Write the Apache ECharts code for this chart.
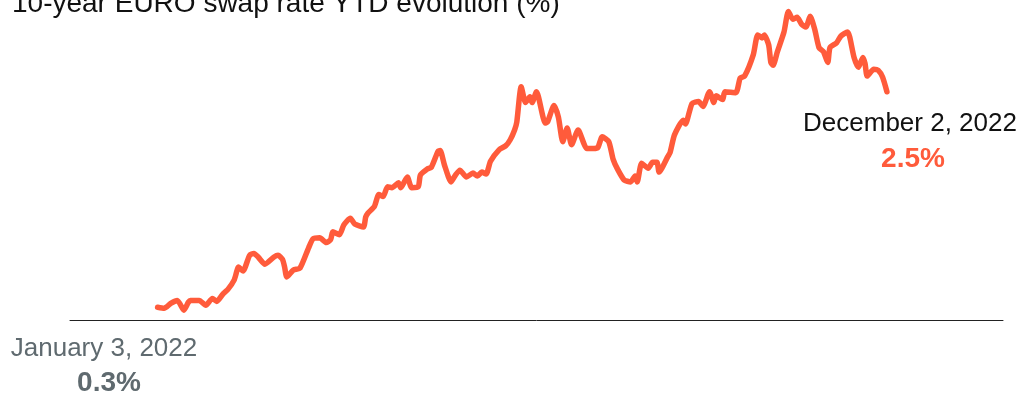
<!DOCTYPE html>
<html>
<head>
<meta charset="utf-8">
<script src="https://cdn.jsdelivr.net/npm/echarts@6/dist/echarts.min.js"></script>
<style>
html,body{margin:0;padding:0;background:#fff;}
#chart{width:1023px;height:396px;}
</style>
</head>
<body>
<div id="chart"></div>
<script>
const title = '10-year EURO swap rate YTD evolution (%)';
const startLabel = 'January 3, 2022';
const startValueLabel = '0.3%';
const endLabel = 'December 2, 2022';
const endValueLabel = '2.5%';

const dates = [
'2022-01-03','2022-01-06','2022-01-09','2022-01-12','2022-01-15','2022-01-17','2022-01-18','2022-01-22','2022-01-25','2022-01-28',
'2022-01-30','2022-02-02','2022-02-04','2022-02-07','2022-02-09','2022-02-11','2022-02-14','2022-02-16','2022-02-18','2022-02-21',
'2022-02-25','2022-02-27','2022-03-01','2022-03-02','2022-03-03','2022-03-06','2022-03-09','2022-03-13','2022-03-15','2022-03-18',
'2022-03-21','2022-03-23','2022-03-24','2022-03-27','2022-03-29','2022-04-01','2022-04-03','2022-04-07','2022-04-08','2022-04-09',
'2022-04-12','2022-04-14','2022-04-16','2022-04-18','2022-04-20','2022-04-23','2022-04-24','2022-04-27','2022-04-29','2022-05-02',
'2022-05-03','2022-05-06','2022-05-08','2022-05-11','2022-05-12','2022-05-14','2022-05-17','2022-05-19','2022-05-21','2022-05-24',
'2022-05-27','2022-05-29','2022-05-31','2022-06-02','2022-06-04','2022-06-08','2022-06-11','2022-06-13','2022-06-15','2022-06-16',
'2022-06-18','2022-06-20','2022-06-22','2022-06-23','2022-06-25','2022-06-29','2022-06-30','2022-07-03','2022-07-05','2022-07-07',
'2022-07-09','2022-07-11','2022-07-14','2022-07-18','2022-07-21','2022-07-23','2022-07-25','2022-07-28','2022-07-30','2022-08-01',
'2022-08-04','2022-08-07','2022-08-09','2022-08-10','2022-08-12','2022-08-15','2022-08-17','2022-08-19','2022-08-20','2022-08-24',
'2022-08-25','2022-08-27','2022-08-31','2022-09-01','2022-09-04','2022-09-07','2022-09-09','2022-09-12','2022-09-14','2022-09-15',
'2022-09-18','2022-09-19','2022-09-24','2022-09-26','2022-09-28','2022-10-02','2022-10-04','2022-10-06','2022-10-07','2022-10-09',
'2022-10-10','2022-10-11','2022-10-13','2022-10-16','2022-10-18','2022-10-20','2022-10-22','2022-10-24','2022-10-26','2022-10-28',
'2022-10-30','2022-11-01','2022-11-03','2022-11-05','2022-11-06','2022-11-09','2022-11-11','2022-11-14','2022-11-15','2022-11-17',
'2022-11-19','2022-11-21','2022-11-22','2022-11-23','2022-11-26','2022-11-28','2022-11-30','2022-12-02'
];

const rates = [
0.30,0.29,0.34,0.37,0.27,0.35,0.37,0.37,0.32,0.39,
0.36,0.44,0.48,0.58,0.71,0.67,0.83,0.85,0.81,0.74,
0.81,0.83,0.79,0.71,0.61,0.68,0.70,0.91,1.00,1.01,
0.96,0.99,1.07,1.04,1.14,1.21,1.15,1.12,1.22,1.26,
1.33,1.45,1.43,1.53,1.52,1.57,1.52,1.63,1.52,1.53,
1.65,1.71,1.73,1.89,1.90,1.75,1.58,1.65,1.70,1.63,
1.67,1.64,1.68,1.66,1.79,1.91,1.95,2.01,2.11,2.19,
2.55,2.39,2.45,2.39,2.50,2.18,2.19,2.36,2.24,1.99,
2.13,1.96,2.11,1.92,1.92,1.93,2.04,1.99,1.81,1.71,
1.60,1.58,1.64,1.58,1.77,1.72,1.78,1.78,1.68,1.84,
1.88,2.06,2.21,2.17,2.38,2.40,2.35,2.50,2.39,2.46,
2.42,2.50,2.49,2.64,2.66,2.88,3.08,3.05,3.08,2.98,
2.80,2.77,2.91,3.11,3.32,3.24,3.26,3.19,3.16,3.27,
3.14,2.95,2.91,2.80,2.95,3.00,3.07,3.11,3.06,2.85,
2.75,2.85,2.79,2.66,2.73,2.72,2.65,2.50
];

const chart = echarts.init(document.getElementById('chart'), null, {renderer: 'canvas'});
const FONT = '"Liberation Sans", Arial, sans-serif';
const ORANGE = '#FF5B3B';
const GREY = '#5F6A6F';

chart.setOption({
  animation: false,
  backgroundColor: '#ffffff',
  grid: {left: 70, right: 20, top: 8.5, bottom: 76, containLabel: false},
  xAxis: {
    type: 'time',
    min: '2021-11-24',
    max: '2023-01-24',
    axisLine: {show: true, lineStyle: {color: '#222222', width: 1}},
    axisTick: {show: false},
    axisLabel: {show: false},
    splitLine: {show: false}
  },
  yAxis: {
    type: 'value',
    min: 0.17,
    max: 3.35,
    show: false,
    splitLine: {show: false}
  },
  series: [{
    type: 'line',
    data: dates.map((d, i) => [d, rates[i]]),
    showSymbol: false,
    smooth: 0.2,
    lineStyle: {color: ORANGE, width: 5.5, cap: 'round', join: 'round'},
    itemStyle: {color: ORANGE}
  }],
  graphic: [
    {type: 'text', left: 12, top: -10, style: {text: title, font: '28px ' + FONT, fill: '#111111'}},
    {type: 'text', x: 104, y: 349, style: {text: startLabel, font: '26px ' + FONT, fill: GREY, align: 'center', verticalAlign: 'middle'}},
    {type: 'text', x: 109, y: 383, style: {text: startValueLabel, font: 'bold 28px ' + FONT, fill: GREY, align: 'center', verticalAlign: 'middle'}},
    {type: 'text', x: 910, y: 124, style: {text: endLabel, font: '26px ' + FONT, fill: '#111111', align: 'center', verticalAlign: 'middle'}},
    {type: 'text', x: 913, y: 159, style: {text: endValueLabel, font: 'bold 28px ' + FONT, fill: ORANGE, align: 'center', verticalAlign: 'middle'}}
  ]
});
</script>
</body>
</html>
